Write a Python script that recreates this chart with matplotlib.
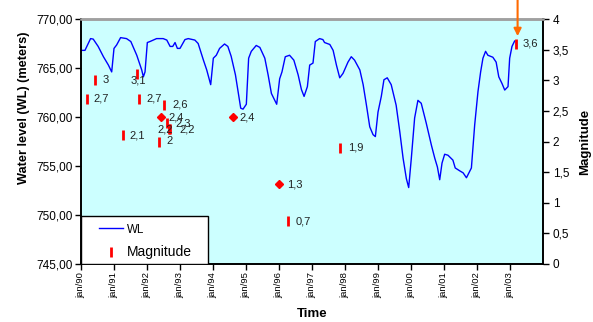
import matplotlib
matplotlib.use('Agg')
import matplotlib.pyplot as plt
from matplotlib.lines import Line2D
from matplotlib.patches import Rectangle

plt.rcParams['font.family'] = ['Liberation Sans', 'DejaVu Sans']

# ---------------- data ----------------
wl_years = [1990.00, 1990.12, 1990.29, 1990.37, 1990.52, 1990.68, 1990.83, 1990.93,
            1991.00, 1991.08, 1991.20, 1991.38, 1991.51, 1991.69, 1991.84, 1991.89,
            1991.94, 1992.01, 1992.09, 1992.29, 1992.49, 1992.60, 1992.70, 1992.78,
            1992.85, 1992.92, 1993.00, 1993.15, 1993.25, 1993.45, 1993.55, 1993.71,
            1993.81, 1993.93, 1994.01, 1994.10, 1994.20, 1994.35, 1994.45, 1994.55,
            1994.68, 1994.76, 1994.84, 1994.91, 1995.01, 1995.08, 1995.16, 1995.31,
            1995.42, 1995.57, 1995.67, 1995.77, 1995.93, 1996.02, 1996.09, 1996.19,
            1996.32, 1996.45, 1996.58, 1996.68, 1996.76, 1996.86, 1996.93, 1997.03,
            1997.10, 1997.23, 1997.33, 1997.38, 1997.54, 1997.64, 1997.74, 1997.84,
            1997.94, 1998.09, 1998.19, 1998.29, 1998.45, 1998.55, 1998.65, 1998.75,
            1998.85, 1998.92, 1999.00, 1999.10, 1999.18, 1999.28, 1999.40, 1999.55,
            1999.66, 1999.76, 1999.86, 1999.93, 2000.01, 2000.11, 2000.21, 2000.31,
            2000.46, 2000.62, 2000.72, 2000.80, 2000.87, 2000.94, 2001.02, 2001.12,
            2001.27, 2001.34, 2001.48, 2001.58, 2001.68, 2001.83, 2001.93, 2002.03,
            2002.11, 2002.18, 2002.26, 2002.33, 2002.48, 2002.58, 2002.66, 2002.76,
            2002.84, 2002.94, 2002.99, 2003.06, 2003.14]
wl_values = [766.8, 766.8, 768.0, 767.95, 767.2, 766.15, 765.3, 764.6,
             767.0, 767.35, 768.1, 768.0, 767.7, 766.3, 764.8, 764.1,
             764.6, 767.6, 767.7, 768.0, 768.0, 767.85, 767.2, 767.2,
             767.6, 767.0, 767.0, 767.9, 768.0, 767.85, 767.5, 765.8,
             764.8, 763.3, 766.0, 766.3, 767.0, 767.45, 767.2, 766.2,
             764.3, 762.6, 760.9, 760.8, 761.3, 766.0, 766.7, 767.3,
             767.1, 766.0, 764.3, 762.4, 761.3, 763.9, 764.6, 766.15,
             766.3, 765.8, 764.3, 762.8, 762.1, 763.1, 765.3, 765.5,
             767.7, 768.0, 767.9, 767.6, 767.4, 766.8, 765.3, 764.0,
             764.45, 765.6, 766.15, 765.8, 764.8, 763.3, 761.2, 759.0,
             758.2, 758.0, 760.5, 762.1, 763.8, 764.0, 763.3, 761.2,
             758.5, 755.8, 753.7, 752.8, 755.8, 759.9, 761.7, 761.4,
             759.4, 757.1, 755.8, 754.9, 753.6, 755.3, 756.2, 756.1,
             755.6, 754.8, 754.5, 754.3, 753.8, 754.8, 759.2, 762.6,
             764.6, 766.0, 766.7, 766.3, 766.1, 765.6, 764.1, 763.4,
             762.75, 763.1, 766.0, 767.2, 767.75]

# earthquake magnitudes (bar markers)
mag_years = [1990.42, 1990.17, 1991.69, 1991.77, 1991.26, 1992.52, 1992.35,
             1992.61, 1992.70, 1992.68, 1996.28, 1997.85, 2003.18]
mag_values = [3.0, 2.7, 3.1, 2.7, 2.1, 2.6, 2.0, 2.3, 2.2, 2.2, 0.7, 1.9, 3.6]
# highlighted events (diamond markers)
hl_years = [1992.42, 1994.60, 1996.01]
hl_values = [2.4, 2.4, 1.3]

xtick_years = list(range(1990, 2004))
xtick_labels = ['jan/90', 'jan/91', 'jan/92', 'jan/93', 'jan/94', 'jan/95', 'jan/96',
                'jan/97', 'jan/98', 'jan/99', 'jan/00', 'jan/01', 'jan/02', 'jan/03']
wl_ticks = [745, 750, 755, 760, 765, 770]
mag_ticks = [0, 0.5, 1, 1.5, 2, 2.5, 3, 3.5, 4]
arrow_year = 2003.23

# label offsets in pixels (layout only)
mag_label_off = [(8, 0), (7, 0), (-6, -6), (7, 0), (7, 0), (8, 0), (8, 0),
                 (8, 0), (9, 0), (-12, 0), (7, 0), (8, 0), (7, 0)]
hl_label_off = [(8, 0), (7, 0), (8, 0)]


def fmt(v):
    return f"{v:g}".replace('.', ',')


fig = plt.figure(figsize=(5.93, 3.22), dpi=100)
ax = fig.add_axes([81 / 593, 58 / 322, 462 / 593, 245 / 322])
ax.set_facecolor('#CCFFFF')
ax.plot(wl_years, wl_values, color='#0000FF', lw=1.0, zorder=2)
ax.set_xlim(1990, 2004)
ax.set_ylim(745, 770)
ax.set_yticks(wl_ticks)
ax.set_yticklabels([f"{v:.2f}".replace('.', ',') for v in wl_ticks])
ax.set_xticks(xtick_years)
ax.set_xticklabels(xtick_labels, rotation=90)
ax.tick_params(axis='x', labelsize=6.8, length=4, width=1, pad=2, colors='black')
ax.tick_params(axis='y', labelsize=8.5, length=4, width=1, pad=2)
ax.set_ylabel('Water level (WL) (meters)', fontsize=9.2, fontweight='bold')
ax.yaxis.set_label_coords(-0.110, 0.637)
ax.set_xlabel('Time', fontsize=9.5, fontweight='bold')
ax.xaxis.set_label_coords(0.5, -0.180)

ax2 = ax.twinx()
ax2.set_ylim(0, 4)
ax2.set_yticks(mag_ticks)
ax2.set_yticklabels([fmt(v) for v in mag_ticks])
ax2.tick_params(axis='y', labelsize=8.5, length=4, width=1, pad=3)
ax2.set_ylabel('Magnitude', fontsize=9.5, fontweight='bold', rotation=90)
ax2.yaxis.set_label_coords(1.078, 0.5)

for a in (ax, ax2):
    for s in ('left', 'right', 'bottom'):
        a.spines[s].set_color('black')
        a.spines[s].set_linewidth(1.2)
    a.spines['top'].set_color('#A0A0A0')
    a.spines['top'].set_linewidth(1.8)

ax2.plot(mag_years, mag_values, ls='none', marker='|', color='#FF0000',
         markersize=7, markeredgewidth=2, zorder=3)
ax2.plot(hl_years, hl_values, ls='none', marker='D', color='#FF0000',
         markersize=4.5, zorder=3)

for x, v, off in zip(mag_years, mag_values, mag_label_off):
    ax2.annotate(fmt(v), (x, v), xytext=off, textcoords='offset pixels',
                 ha='left', va='center', fontsize=8, color='#222222', zorder=3)
for x, v, off in zip(hl_years, hl_values, hl_label_off):
    ax2.annotate(fmt(v), (x, v), xytext=off, textcoords='offset pixels',
                 ha='left', va='center', fontsize=8, color='#222222', zorder=3)

# orange arrow pointing at the last event
ax2.annotate('', xy=(arrow_year, 3.72), xytext=(arrow_year, 4.32),
             arrowprops=dict(arrowstyle='-|>', color='#FF6A00', lw=1.5,
                             mutation_scale=11, shrinkA=0, shrinkB=0),
             annotation_clip=False)

# legend
box = Rectangle((0, 0), 127 / 462, 48 / 245, transform=ax2.transAxes,
                facecolor='white', edgecolor='black', lw=1.0, zorder=4.5)
ax2.add_patch(box)
handles = [Line2D([], [], color='#0000FF', lw=1.0),
           Line2D([], [], ls='none', marker='|', color='#FF0000',
                  markersize=7, markeredgewidth=2)]
leg = ax2.legend(handles, ['WL', 'Magnitude'], loc='upper left',
                 bbox_to_anchor=(18 / 462, 41 / 245), borderaxespad=0,
                 borderpad=0, frameon=False, fontsize=10, handlelength=1.75,
                 handletextpad=0.25, labelspacing=0.7)
leg.set_zorder(5)
leg.get_texts()[0].set_fontsize(8.3)

fig.savefig('out.png', dpi=100)
